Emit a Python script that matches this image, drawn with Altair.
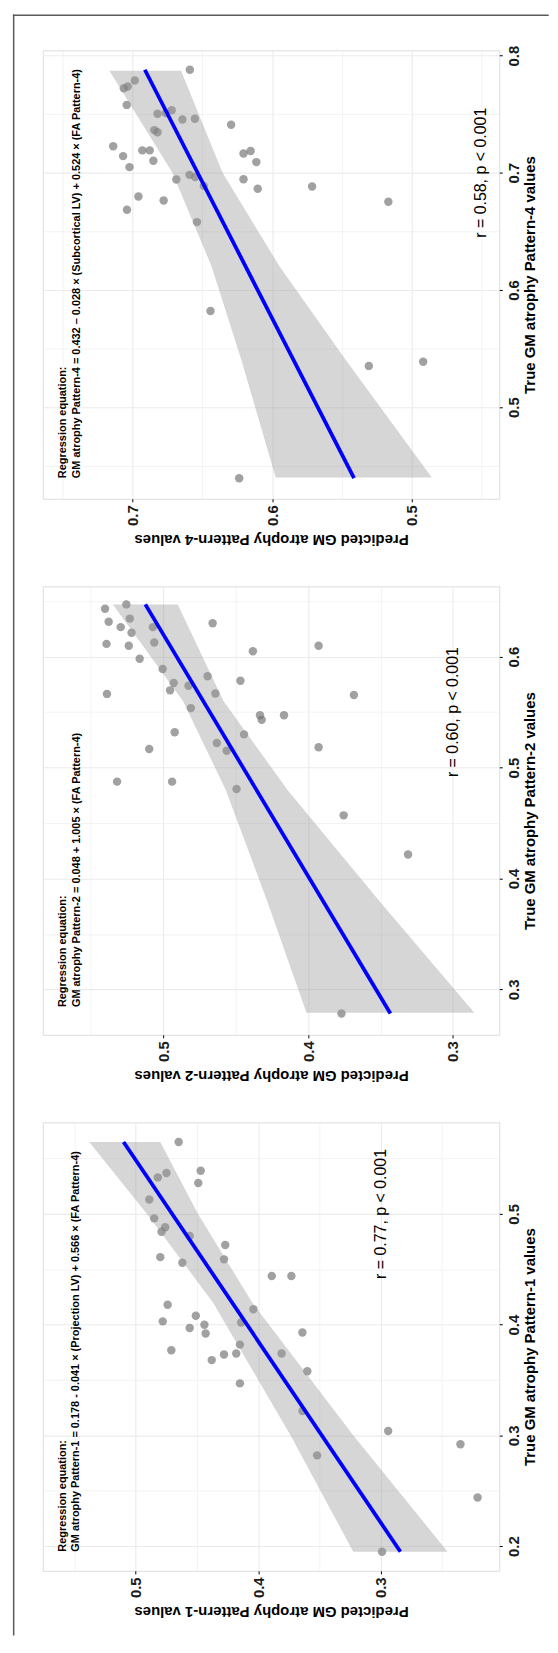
import altair as alt
import pandas as pd

FONT = "Liberation Sans"
W, H = 459, 451

# ---------------- Panel 1 : Pattern-1 ----------------
p1_true = [0.195, 0.244, 0.292, 0.304, 0.282, 0.322, 0.347, 0.358, 0.374, 0.374,
           0.373, 0.368, 0.382, 0.377, 0.393, 0.392, 0.400, 0.397, 0.402, 0.403,
           0.408, 0.414, 0.418, 0.444, 0.444, 0.459, 0.456, 0.461, 0.472, 0.480,
           0.484, 0.488, 0.496, 0.513, 0.528, 0.539, 0.533, 0.537, 0.565]
p1_pred = [0.299, 0.221, 0.235, 0.294, 0.352, 0.364, 0.415, 0.360, 0.381, 0.418,
           0.428, 0.438, 0.415, 0.471, 0.364, 0.443, 0.444, 0.456, 0.414, 0.478,
           0.451, 0.404, 0.474, 0.389, 0.373, 0.428, 0.462, 0.480, 0.427, 0.456,
           0.479, 0.476, 0.485, 0.489, 0.449, 0.447, 0.482, 0.475, 0.465]
b1_t = [0.195, 0.30, 0.42, 0.50, 0.565]
b1_lo = [0.2455, 0.3224, 0.405, 0.4492, 0.480]
b1_hi = [0.3225, 0.3736, 0.437, 0.4908, 0.538]
l1_t = [0.195, 0.565]
l1_p = [0.284, 0.510]

# ---------------- Panel 2 : Pattern-2 ----------------
p2_true = [0.2782, 0.4216, 0.4569, 0.4806, 0.4873, 0.4873, 0.5151, 0.5167, 0.5222, 0.5183,
           0.5299, 0.5318, 0.5430, 0.5472, 0.5472, 0.5536, 0.5654, 0.5664, 0.5667, 0.5696,
           0.5737, 0.5763, 0.5782, 0.5824, 0.5888, 0.5981, 0.6048, 0.6099, 0.6115, 0.6099,
           0.6128, 0.6215, 0.6266, 0.6266, 0.6301, 0.6314, 0.6343, 0.6432, 0.6471]
p2_pred = [0.377, 0.331, 0.3755, 0.4495, 0.532, 0.494, 0.4563, 0.5098, 0.4631, 0.3928,
           0.4443, 0.4922, 0.4321, 0.4333, 0.4167, 0.481, 0.3684, 0.539, 0.4641, 0.4954,
           0.4827, 0.4929, 0.4468, 0.4695, 0.5005, 0.5164, 0.4382, 0.3928, 0.5393, 0.5239,
           0.5063, 0.522, 0.5295, 0.5073, 0.466, 0.5378, 0.5232, 0.5403, 0.5256]
b2_t = [0.279, 0.38, 0.48, 0.56, 0.647]
b2_lo = [0.2852, 0.351, 0.4144, 0.4585, 0.4901]
b2_hi = [0.4012, 0.4284, 0.457, 0.4865, 0.5349]
l2_t = [0.2782, 0.6471]
l2_p = [0.3432, 0.5125]

# ---------------- Panel 3 : Pattern-4 ----------------
p3_true = [0.4394, 0.5352, 0.5388, 0.5821, 0.6579, 0.6685, 0.6752, 0.6764, 0.6797, 0.6882,
           0.6864, 0.6888, 0.6942, 0.6945, 0.6982, 0.6964, 0.7048, 0.7091, 0.7103, 0.7142,
           0.7164, 0.7185, 0.7191, 0.7191, 0.7227, 0.7345, 0.7364, 0.7409, 0.7455, 0.7461,
           0.7503, 0.7509, 0.7533, 0.7579, 0.7721, 0.7736, 0.7788, 0.7879]
p3_pred = [0.6236, 0.5306, 0.4916, 0.6442, 0.6539, 0.7041, 0.5166, 0.6778, 0.6959, 0.5713,
           0.6103, 0.6490, 0.6687, 0.6205, 0.6592, 0.6552, 0.7023, 0.6113, 0.6852, 0.7069,
           0.6205, 0.6154, 0.6931, 0.6878, 0.7140, 0.6822, 0.6845, 0.6294, 0.6643, 0.6554,
           0.6822, 0.6763, 0.6720, 0.7043, 0.7064, 0.7036, 0.6985, 0.6590]
b3_t = [0.44, 0.54, 0.62, 0.70, 0.787]
b3_lo = [0.4854, 0.547, 0.5946, 0.6355, 0.6653]
b3_hi = [0.5974, 0.622, 0.6434, 0.6715, 0.7167]
l3_t = [0.4394, 0.7879]
l3_p = [0.5412, 0.6913]

titles_true = ["True GM atrophy Pattern-1 values", "True GM atrophy Pattern-2 values",
               "True GM atrophy Pattern-4 values"]
titles_pred = ["Predicted GM atrophy Pattern-1 values", "Predicted GM atrophy Pattern-2 values",
               "Predicted GM atrophy Pattern-4 values"]
eq_head = "Regression equation:"
eq_lines = ["GM atrophy Pattern-1 = 0.178 - 0.041 \u00d7 (Projection LV) + 0.566 \u00d7 (FA Pattern-4)",
            "GM atrophy Pattern-2 = 0.048 + 1.005 \u00d7 (FA Pattern-4)",
            "GM atrophy Pattern-4 = 0.432 \u2013 0.028 \u00d7 (Subcortical LV) + 0.524 \u00d7 (FA Pattern-4)"]
r_texts = ["r = 0.77, p < 0.001", "r = 0.60, p < 0.001", "r = 0.58, p < 0.001"]

# annotation anchors in data units (true, pred)
eq_true = [0.195, 0.284, 0.4394]
eq_pred_head = [0.559, 0.569, 0.7497]
eq_pred_line = [0.5485, 0.560, 0.7403]
r_true = [0.50, 0.55, 0.70]
r_pred = [0.30, 0.30, 0.45]

true_dom = [[0.1777, 0.5827], [0.259, 0.6634], [0.4218, 0.8045]]
pred_dom = [[0.2033, 0.5759], [0.268, 0.5833], [0.437, 0.7645]]
true_ticks = [[0.2, 0.25, 0.3, 0.35, 0.4, 0.45, 0.5, 0.55],
              [0.3, 0.35, 0.4, 0.45, 0.5, 0.55, 0.6, 0.65],
              [0.45, 0.5, 0.55, 0.6, 0.65, 0.7, 0.75, 0.8]]
pred_ticks = [[0.25, 0.3, 0.35, 0.4, 0.45, 0.5, 0.55],
              [0.3, 0.35, 0.4, 0.45, 0.5, 0.55],
              [0.45, 0.5, 0.55, 0.6, 0.65, 0.7, 0.75]]

MAJOR = "abs(datum.value*10 - round(datum.value*10)) < 0.001"


def axis_common(values):
    return dict(
        values=values,
        labelExpr=f"{MAJOR} ? format(datum.value, '.1f') : ''",
        labelFont=FONT, labelFontSize=15, labelFontWeight="bold", labelColor="#1a1a1a",
        labelAngle=270, labelOverlap=False, labelFlush=False,
        tickSize=3, tickColor="black", tickWidth=1,
        tickOpacity={"condition": {"test": MAJOR, "value": 1}, "value": 0},
        domain=False, grid=True, gridColor="#EBEBEB",
        gridWidth={"condition": {"test": MAJOR, "value": 1.1}, "value": 0.6},
        titleFont=FONT, titleFontSize=15, titleFontWeight="bold", titleColor="black",
    )


def panel(i, pts_t, pts_p, bt, blo, bhi, lt, lp, border=False):
    ys = alt.Scale(domain=true_dom[i], nice=False, zero=False)
    xs = alt.Scale(domain=pred_dom[i], reverse=True, nice=False, zero=False)
    yax = alt.Axis(orient="right", labelAlign="center", labelBaseline="top", labelPadding=4,
                   title=titles_true[i], titleAngle=270, titleAlign="center",
                   titleBaseline="alphabetic", titleX=35, titleY=H / 2,
                   **axis_common(true_ticks[i]))
    xax = alt.Axis(orient="bottom", labelAlign="right", labelBaseline="middle", labelPadding=3,
                   title=titles_pred[i], titleAngle=180, titleAlign="center",
                   titleBaseline="alphabetic", titleX=W / 2, titleY=36,
                   **axis_common(pred_ticks[i]))

    def X(f):
        return alt.X(f"{f}:Q", scale=xs, axis=xax)

    def Y(f):
        return alt.Y(f"{f}:Q", scale=ys, axis=yax)

    pts = pd.DataFrame({"true": pts_t, "pred": pts_p})
    band = pd.DataFrame({"true": bt, "pred": blo, "pred_hi": bhi})
    line = pd.DataFrame({"true": lt, "pred": lp})
    ann = pd.DataFrame({
        "true": [eq_true[i], eq_true[i]],
        "pred": [eq_pred_head[i], eq_pred_line[i]],
        "label": [eq_head, eq_lines[i]],
    })
    rdf = pd.DataFrame({"true": [r_true[i]], "pred": [r_pred[i]], "label": [r_texts[i]]})

    layers = [
        alt.Chart(pts).mark_circle(size=72, color="#6e6e6e", opacity=0.65).encode(x=X("pred"), y=Y("true")),
        alt.Chart(band).mark_area(orient="horizontal", color="#999999", opacity=0.4).encode(
            y=Y("true"), x=X("pred"), x2="pred_hi:Q"),
        alt.Chart(line).mark_line(color="#0000ff", strokeWidth=3.8).encode(
            x=X("pred"), y=Y("true"), order="true:Q"),
        alt.Chart(ann).mark_text(angle=270, align="left", baseline="middle", font=FONT,
                                 fontSize=11, fontWeight="bold", color="black").encode(
            x=X("pred"), y=Y("true"), text="label:N"),
        alt.Chart(rdf).mark_text(angle=270, align="center", baseline="middle", font=FONT,
                                 fontSize=16, color="black").encode(
            x=X("pred"), y=Y("true"), text="label:N"),
    ]
    if border:
        frame = pd.DataFrame({"k": [0]})
        layers.append(alt.Chart(frame).mark_rule(color="#5a5a5a", strokeWidth=1.5).encode(
            x=alt.value(-29.3), y=alt.value(-36), y2=alt.value(1594)))
        layers.append(alt.Chart(frame).mark_rule(color="#5a5a5a", strokeWidth=1.5).encode(
            x=alt.value(-30.05), x2=alt.value(508.7), y=alt.value(-35.25)))
    return alt.layer(*layers).properties(width=W, height=H)


c3 = panel(2, p3_true, p3_pred, b3_t, b3_lo, b3_hi, l3_t, l3_p, border=True)
c2 = panel(1, p2_true, p2_pred, b2_t, b2_lo, b2_hi, l2_t, l2_p)
c1 = panel(0, p1_true, p1_pred, b1_t, b1_lo, b1_hi, l1_t, l1_p)

chart = alt.vconcat(c3, c2, c1, spacing=88, bounds="flush").properties(
    padding={"left": 3, "top": 0, "right": 0, "bottom": 0}
).configure_view(stroke="black", strokeWidth=1.8).configure(font=FONT)

chart.save("out.html", embed_options={"renderer": "svg", "actions": False})
